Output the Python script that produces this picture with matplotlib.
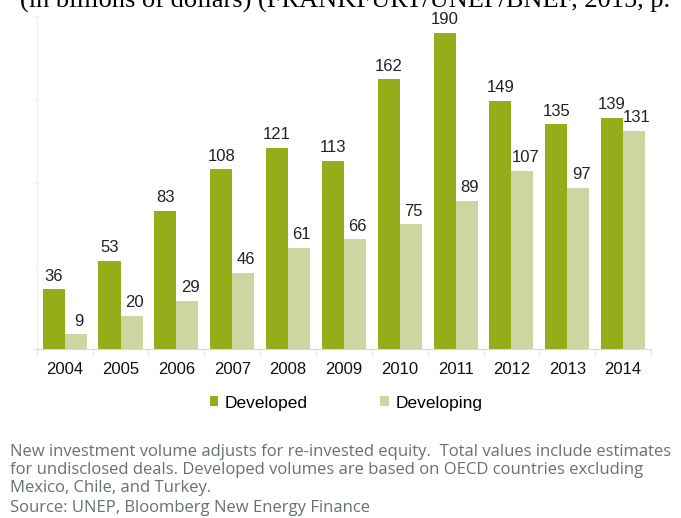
import numpy as np
import matplotlib.pyplot as plt

plt.rcParams['font.family'] = ['Liberation Sans', 'DejaVu Sans']

# data (billions of dollars)
years = ['2004', '2005', '2006', '2007', '2008', '2009', '2010', '2011', '2012', '2013', '2014']
developed = [36, 53, 83, 108, 121, 113, 162, 190, 149, 135, 139]
developing = [9, 20, 29, 46, 61, 66, 75, 89, 107, 97, 131]

c_dev = '#93ae18'
c_ing = '#cbd6a0'

fig = plt.figure(figsize=(6.81, 5.18), dpi=100)
ax = fig.add_axes([0.054, 0.326, 0.902, 0.643])

x = np.arange(len(years))
w = 0.395
b1 = ax.bar(x - w / 2, developed, w, color=c_dev, label='Developed')
b2 = ax.bar(x + w / 2, developing, w, color=c_ing, label='Developing')

# value labels
for rect, v in zip(b1, developed):
    ax.annotate(str(v), (rect.get_x() + rect.get_width() / 2, v), xytext=(0, 4),
                textcoords='offset points', ha='center', va='bottom', fontsize=12, color='#222222')
for rect, v in zip(b2, developing):
    ax.annotate(str(v), (rect.get_x() + rect.get_width() / 2, v), xytext=(2, 4),
                textcoords='offset points', ha='center', va='bottom', fontsize=12, color='#222222')

ax.set_xlim(-0.5, len(years) - 0.5)
ax.set_ylim(0, 200)
ax.set_xticks(x)
ax.set_xticklabels(years, fontsize=12, color='#111111')
ax.tick_params(axis='x', length=0, pad=9)
ax.set_xticks(np.arange(-0.5, len(years)), minor=True)
ax.tick_params(axis='x', which='minor', length=4, color='#d8d8d8', direction='out')
ax.set_yticks([0, 50, 100, 150, 200])
ax.set_yticklabels([])
ax.tick_params(axis='y', length=3, color='#eeeeee')
for s in ['top', 'right']:
    ax.spines[s].set_visible(False)
ax.spines['left'].set_color('#f0f0f0')
ax.spines['bottom'].set_color('#d8d8d8')

fig.legend(handles=[b1, b2], loc='center', bbox_to_anchor=(0.508, 0.222), ncol=2, frameon=False,
           fontsize=12.5, handlelength=0.5, handleheight=0.5, handletextpad=0.35, columnspacing=4.2)

# title cut at the top
fig.text(0.03, 0.985, '(in billions of dollars) (FRANKFURT/UNEP/BNEF, 2015, p.', fontsize=19,
         family='Liberation Serif', va='baseline', ha='left')

note = ('New investment volume adjusts for re-invested equity.  Total values include estimates\n'
        'for undisclosed deals. Developed volumes are based on OECD countries excluding\n'
        'Mexico, Chile, and Turkey.')
fig.text(0.014, 0.142, note, fontsize=12, color='#66736a', family='Open Sans', va='top',
         linespacing=1.14)
fig.text(0.014, 0.019, 'Source: UNEP, Bloomberg New Energy Finance', fontsize=12, color='#66736a',
         family='Open Sans', va='center')

fig.savefig('out.png', dpi=100)
